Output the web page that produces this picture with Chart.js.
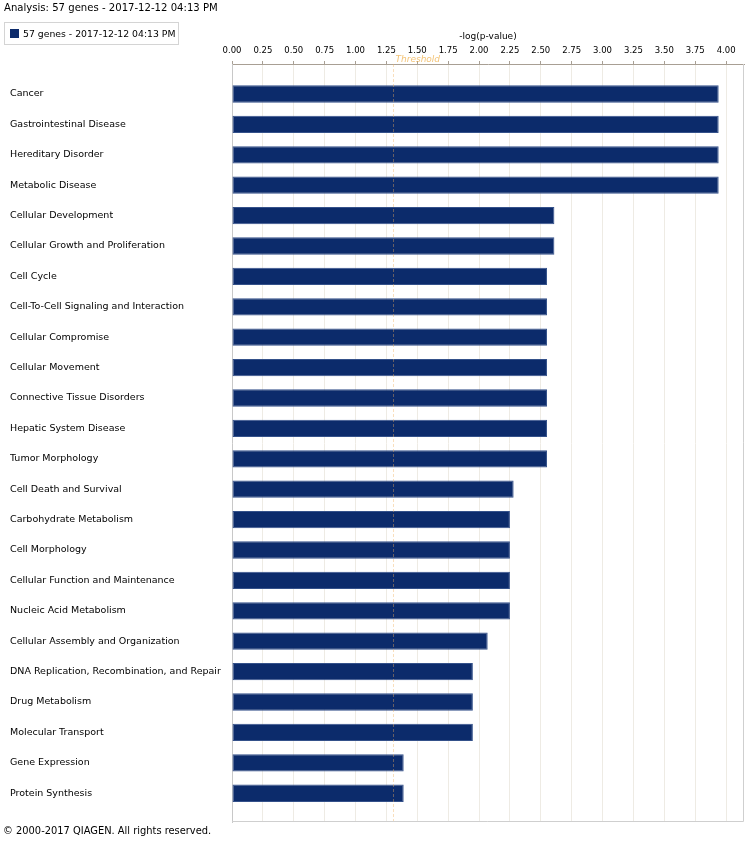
<!DOCTYPE html>
<html><head><meta charset="utf-8">
<script src="https://cdn.jsdelivr.net/npm/chart.js@4"></script>
<style>
html,body{margin:0;padding:0;background:#fff;}
#wrap{position:relative;width:750px;height:845px;background:#fff;}
canvas{position:absolute;left:0;top:0;}
.t{position:absolute;font-family:"DejaVu Sans";color:#000;white-space:nowrap;line-height:1;}
</style></head><body>
<div id="wrap">
<canvas id="c" width="750" height="845"></canvas>
<div class="t" id="title" style="left:4px;top:3px;font-size:10.1px;"></div>
<div id="legend" style="position:absolute;left:4px;top:22px;width:175px;height:23px;border:1px solid #d4d4d4;box-sizing:border-box;">
 <span id="swatch" style="position:absolute;left:5px;top:6px;width:9px;height:9px;"></span>
 <span class="t" id="legText" style="left:18px;top:6px;font-size:9.3px;"></span>
</div>
<div class="t" id="footer" style="left:3px;top:826px;font-size:9.9px;"></div>
</div>
<script>
const categories = [
  "Cancer", "Gastrointestinal Disease", "Hereditary Disorder", "Metabolic Disease",
  "Cellular Development", "Cellular Growth and Proliferation", "Cell Cycle",
  "Cell-To-Cell Signaling and Interaction", "Cellular Compromise", "Cellular Movement",
  "Connective Tissue Disorders", "Hepatic System Disease", "Tumor Morphology",
  "Cell Death and Survival", "Carbohydrate Metabolism", "Cell Morphology",
  "Cellular Function and Maintenance", "Nucleic Acid Metabolism",
  "Cellular Assembly and Organization", "DNA Replication, Recombination, and Repair",
  "Drug Metabolism", "Molecular Transport", "Gene Expression", "Protein Synthesis"
];
const negLogP = [
  3.94, 3.94, 3.94, 3.94,
  2.61, 2.61, 2.55,
  2.55, 2.55, 2.55,
  2.55, 2.55, 2.55,
  2.28, 2.25, 2.25,
  2.25, 2.25,
  2.07, 1.95,
  1.95, 1.95, 1.39, 1.39
];
const seriesName = "57 genes - 2017-12-12 04:13 PM";
const titleText = "Analysis: 57 genes - 2017-12-12 04:13 PM";
const axisTitle = "-log(p-value)";
const footerText = "\u00A9 2000-2017 QIAGEN. All rights reserved.";
const thresholdValue = 1.3;
const thresholdLabel = "Threshold";
const xTickStep = 0.25;
const barColor = "#0c2b6b";

document.getElementById('title').textContent = titleText;
document.getElementById('legText').textContent = seriesName;
document.getElementById('swatch').style.background = barColor;
document.getElementById('footer').textContent = footerText;

const boxPlugin = {
  id: 'box',
  afterDatasetsDraw(chart) {
    const {ctx, chartArea: a, scales: {x}} = chart;
    ctx.save();
    const tx = Math.round(x.getPixelForValue(thresholdValue)) + 0.5;
    ctx.strokeStyle = 'rgba(240,175,90,0.4)';
    ctx.lineWidth = 1;
    ctx.setLineDash([3, 2]);
    ctx.beginPath(); ctx.moveTo(tx, a.top); ctx.lineTo(tx, a.bottom); ctx.stroke();
    ctx.setLineDash([]);
    ctx.fillStyle = 'rgba(238,170,60,0.7)';
    ctx.font = 'italic 9px "DejaVu Sans"';
    ctx.textBaseline = 'middle';
    ctx.textAlign = 'left';
    ctx.fillText(thresholdLabel, tx + 2, a.top - 4);
    ctx.strokeStyle = '#cfcfcf';
    ctx.beginPath();
    ctx.moveTo(a.right - 0.5, a.top);
    ctx.lineTo(a.right - 0.5, a.bottom - 0.5);
    ctx.lineTo(a.left, a.bottom - 0.5);
    ctx.stroke();
    ctx.restore();
  }
};

new Chart(document.getElementById('c'), {
  type: 'bar',
  data: {
    datasets: [{
      label: seriesName,
      data: categories.map((c, i) => ({x: negLogP[i], y: i})),
      backgroundColor: barColor,
      borderColor: '#34518a',
      borderWidth: 1,
      borderSkipped: false,
      categoryPercentage: 1,
      barPercentage: 0.57
    }]
  },
  options: {
    indexAxis: 'y',
    responsive: false,
    animation: false,
    layout: {padding: {left: 10, right: 6, top: 0, bottom: 23}},
    plugins: {legend: {display: false}, tooltip: {enabled: false}, title: {display: false}},
    scales: {
      x: {
        type: 'linear', position: 'top', min: 0, max: 4.145,
        ticks: {stepSize: xTickStep, includeBounds: false, padding: 5, color: '#000',
          font: {family: 'DejaVu Sans', size: 8.5}, callback: v => Number(v).toFixed(2),
          maxRotation: 0, autoSkip: false},
        grid: {color: '#eeebe4', tickColor: '#a89f94', tickLength: 3},
        border: {color: '#a89f94'},
        title: {display: true, text: axisTitle, color: '#000',
          font: {family: 'DejaVu Sans', size: 9}, padding: {top: 31, bottom: 0}},
        afterFit: s => { s.height = 64; }
      },
      y: {
        type: 'linear', reverse: true, offset: false, min: -0.987, max: 23.947,
        afterBuildTicks: s => { s.ticks = categories.map((_, i) => ({value: i})); },
        ticks: {crossAlign: 'far', autoSkip: false, padding: 0, color: '#000',
          font: {family: 'DejaVu Sans', size: 9.5}, callback: v => categories[v]},
        grid: {display: false, offset: false},
        border: {display: true, color: '#c8c8c8'},
        afterFit: s => { s.width = 222; }
      }
    }
  },
  plugins: [boxPlugin]
});
</script>
</body></html>
